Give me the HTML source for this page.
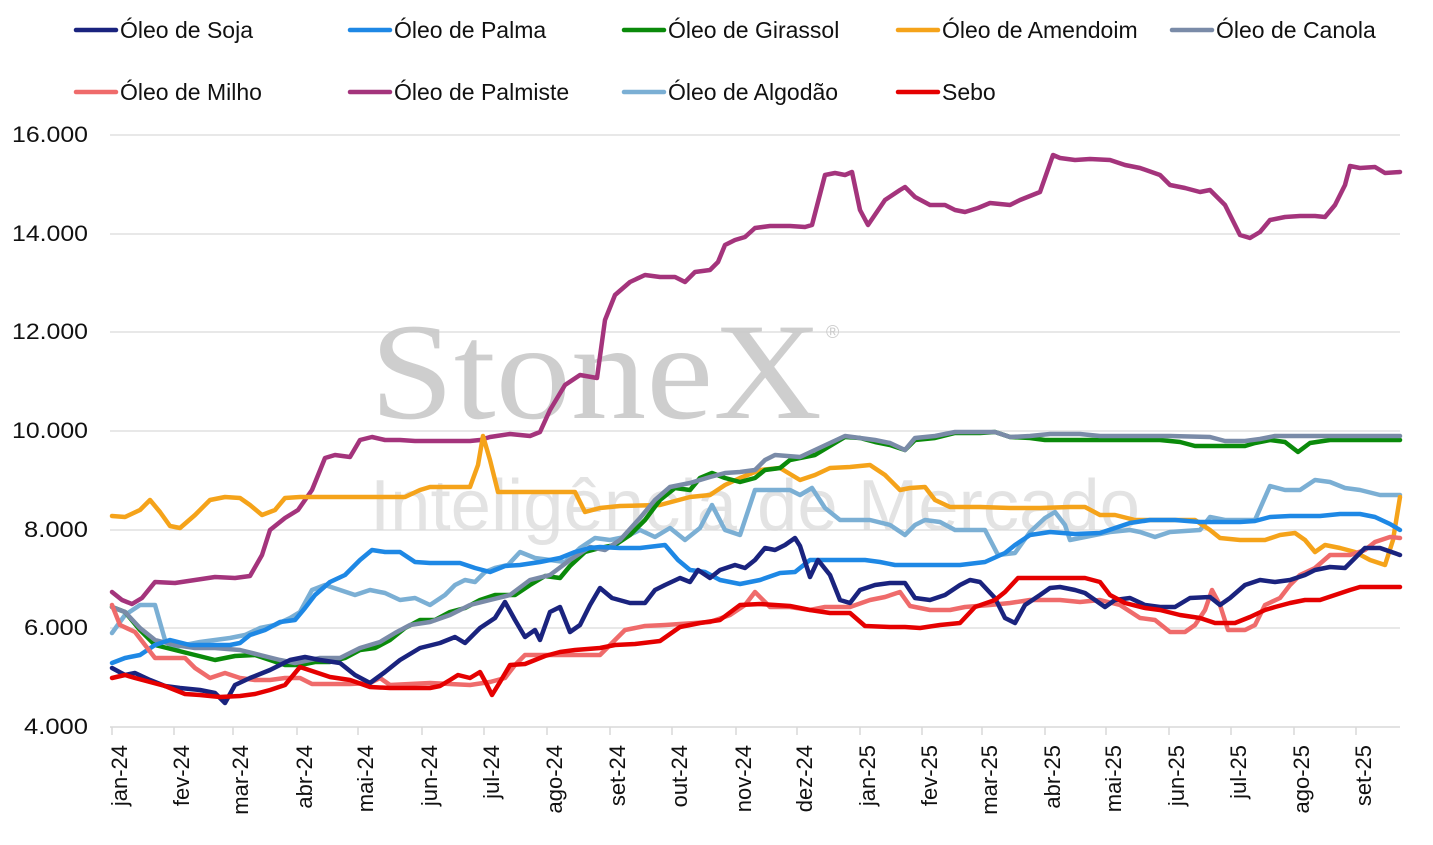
<!DOCTYPE html>
<html><head><meta charset="utf-8"><style>
body{margin:0;background:#fff;}
svg{display:block;font-family:"Liberation Sans",sans-serif;}
</style></head><body>
<svg width="1433" height="845" viewBox="0 0 1433 845" xmlns="http://www.w3.org/2000/svg">
<g stroke="#d9d9d9" stroke-width="1.3">
<line x1="110" x2="1400" y1="135" y2="135"/><line x1="110" x2="1400" y1="234" y2="234"/><line x1="110" x2="1400" y1="332" y2="332"/><line x1="110" x2="1400" y1="431" y2="431"/><line x1="110" x2="1400" y1="530" y2="530"/><line x1="110" x2="1400" y1="628" y2="628"/>
</g>
<g font-size="22" fill="#111" text-anchor="end">
<text x="88" y="142" textLength="76" lengthAdjust="spacingAndGlyphs">16.000</text><text x="88" y="241" textLength="76" lengthAdjust="spacingAndGlyphs">14.000</text><text x="88" y="339" textLength="76" lengthAdjust="spacingAndGlyphs">12.000</text><text x="88" y="438" textLength="76" lengthAdjust="spacingAndGlyphs">10.000</text><text x="88" y="537" textLength="64" lengthAdjust="spacingAndGlyphs">8.000</text><text x="88" y="635" textLength="64" lengthAdjust="spacingAndGlyphs">6.000</text><text x="88" y="734" textLength="64" lengthAdjust="spacingAndGlyphs">4.000</text>
</g>
<text x="370" y="418" font-family="Liberation Serif,serif" font-size="138" fill="#c9c9c9" opacity="0.9" textLength="452" lengthAdjust="spacingAndGlyphs">StoneX</text>
<text x="826" y="338" font-size="18" fill="#ccc">®</text>
<text x="370" y="530" font-size="72" fill="#ddd" opacity="0.8" textLength="770" lengthAdjust="spacingAndGlyphs">Inteligência de Mercado</text>
<g fill="none" stroke-width="4.5" stroke-linejoin="round" stroke-linecap="round">
<polyline stroke="#A4347C" points="112,592 122,600 132,604 142,598 155,582 175,583 195,580 215,577 235,578 250,576 262,555 270,530 285,518 298,510 312,490 325,458 335,455 350,457 360,440 372,437 385,440 400,440 415,441 440,441 470,441 480,440 490,437 510,434 530,436 540,432 550,410 565,385 580,375 597,378 605,320 615,295 630,282 645,275 660,277 675,277 685,282 695,272 710,270 718,262 725,245 735,240 745,237 755,228 770,226 790,226 805,227 812,225 825,175 835,173 845,175 852,172 860,210 868,225 885,200 900,190 905,187 915,197 930,205 945,205 955,210 965,212 978,208 990,203 1010,205 1020,200 1040,192 1053,155 1060,158 1075,160 1090,159 1110,160 1125,165 1140,168 1160,175 1170,185 1185,188 1200,192 1210,190 1225,205 1240,235 1250,238 1260,232 1270,220 1285,217 1300,216 1315,216 1325,217 1335,205 1345,185 1350,166 1360,168 1375,167 1385,173 1400,172"/>
<polyline stroke="#7BAFD4" points="112,633 125,615 140,605 155,605 165,640 172,648 185,645 200,642 215,640 230,638 245,635 260,628 275,625 290,618 300,612 312,590 325,585 340,590 355,595 370,590 385,593 400,600 415,598 430,605 445,595 455,585 465,580 475,582 485,572 495,568 508,565 520,552 535,558 550,560 565,562 580,548 595,538 610,540 625,537 640,530 655,537 670,528 685,540 700,528 712,505 725,530 740,535 755,490 770,490 790,490 800,495 812,488 825,508 840,520 870,520 890,525 905,535 915,525 925,520 940,522 955,530 985,530 998,555 1015,553 1030,532 1045,518 1055,512 1065,525 1070,540 1085,537 1095,535 1110,532 1130,530 1140,532 1155,537 1170,532 1200,530 1210,517 1225,520 1255,520 1270,486 1285,490 1300,490 1315,480 1330,482 1345,488 1360,490 1380,495 1400,495"/>
<polyline stroke="#F5A31A" points="112,516 125,517 140,510 150,500 160,512 170,526 180,528 195,515 210,500 225,497 240,498 250,505 262,515 275,510 285,498 300,497 340,497 380,497 405,497 420,490 430,487 455,487 470,487 478,465 483,436 490,460 498,492 520,492 550,492 575,492 585,512 600,508 620,506 660,505 690,497 710,495 725,485 740,478 760,470 780,468 800,480 815,475 830,468 850,467 870,465 885,475 900,490 910,488 925,487 935,500 950,507 980,507 1010,508 1040,508 1070,507 1085,507 1100,515 1115,515 1135,520 1160,520 1195,520 1210,530 1220,538 1240,540 1265,540 1280,535 1295,533 1305,540 1315,552 1325,545 1340,548 1355,552 1370,560 1385,565 1393,540 1400,497"/>
<polyline stroke="#0A8A0A" points="112,607 125,612 140,630 155,645 175,650 195,655 215,660 235,656 255,655 270,660 285,665 300,665 315,662 330,662 345,658 360,650 375,648 390,640 405,628 420,620 435,620 450,612 465,608 480,600 495,595 515,595 530,585 545,576 560,578 570,566 585,552 600,548 615,545 630,535 645,520 660,500 675,488 690,490 700,478 712,473 725,478 740,482 755,478 765,470 780,468 790,460 800,458 815,455 830,446 845,437 860,438 875,442 890,445 905,450 915,440 935,438 955,433 980,433 995,432 1010,437 1030,438 1045,440 1070,440 1100,440 1130,440 1160,440 1180,442 1195,446 1215,446 1245,446 1255,443 1270,440 1285,442 1298,452 1310,443 1330,440 1360,440 1400,440"/>
<polyline stroke="#7A8BA8" points="112,607 125,612 140,628 155,640 175,645 195,648 215,648 240,650 260,655 280,660 295,663 320,658 340,658 360,648 380,642 395,633 410,625 430,622 450,615 470,605 490,600 510,595 530,580 550,575 570,560 590,547 605,550 620,540 640,518 655,500 670,487 690,483 710,477 725,473 740,472 755,470 765,460 775,455 800,457 815,450 830,443 845,436 860,438 875,440 890,443 905,450 915,438 935,436 955,432 995,432 1010,437 1030,436 1050,434 1080,434 1100,436 1130,436 1170,436 1210,437 1225,441 1245,441 1260,439 1275,436 1300,436 1330,436 1400,436"/>
<polyline stroke="#1E88E5" points="112,663 125,658 140,655 155,645 170,640 190,645 210,645 230,645 240,643 250,635 265,630 280,622 295,620 305,608 315,595 330,582 345,575 360,560 372,550 385,552 400,552 415,562 430,563 460,563 475,568 490,572 505,566 520,565 540,562 560,558 575,552 590,548 600,547 620,548 640,548 665,545 678,560 690,570 705,572 720,580 740,584 760,580 780,573 795,572 810,560 825,560 850,560 865,560 880,562 895,565 930,565 960,565 985,562 1005,553 1015,545 1030,535 1050,532 1075,534 1100,533 1115,528 1130,523 1150,520 1175,520 1200,522 1240,522 1255,521 1270,517 1290,516 1320,516 1340,514 1360,514 1375,517 1390,524 1400,530"/>
<polyline stroke="#EF6B6B" points="112,605 120,625 135,632 145,645 155,658 170,658 185,658 195,668 210,678 225,673 240,678 255,680 270,680 285,678 300,678 312,684 330,684 350,684 370,683 380,678 390,685 410,684 430,683 450,684 470,685 490,682 505,678 515,665 525,655 540,655 560,655 600,655 615,640 625,630 645,626 665,625 680,624 710,622 730,615 745,605 755,592 770,607 790,607 810,610 825,607 850,607 870,600 885,597 900,592 910,606 930,610 950,610 965,607 990,605 1010,603 1030,600 1060,600 1080,602 1100,600 1120,605 1140,618 1155,620 1170,632 1185,632 1195,625 1205,610 1212,590 1220,605 1228,630 1245,630 1255,625 1265,605 1280,598 1290,585 1300,575 1315,568 1330,555 1350,555 1365,550 1375,542 1390,537 1400,538"/>
<polyline stroke="#1A237E" points="112,668 125,675 135,673 150,680 165,686 180,688 200,690 215,693 225,703 235,685 250,678 270,670 290,660 305,657 320,660 340,663 355,675 370,683 385,672 400,660 420,648 440,643 455,637 465,643 480,628 495,618 505,602 515,620 525,637 535,630 540,640 550,612 560,607 570,632 580,625 590,605 600,588 612,598 630,603 645,603 655,590 665,585 680,578 690,582 698,570 710,578 720,570 735,565 745,568 755,560 765,548 775,550 785,545 795,538 800,546 810,577 818,560 830,575 840,600 850,603 860,590 875,585 890,583 905,583 915,598 930,600 945,595 960,585 970,580 980,582 995,598 1005,618 1015,623 1025,605 1040,595 1050,588 1060,587 1075,590 1085,593 1095,600 1105,607 1115,600 1130,598 1145,605 1160,607 1175,607 1190,598 1210,597 1220,605 1230,598 1245,585 1260,580 1275,582 1290,580 1305,575 1315,570 1330,567 1345,568 1355,558 1365,548 1380,548 1400,555"/>
<polyline stroke="#E50000" points="112,678 125,675 135,678 150,682 165,686 175,690 185,694 200,695 220,697 240,696 255,694 270,690 285,685 300,667 315,672 330,677 350,680 370,687 390,688 410,688 430,688 440,686 450,680 458,675 470,678 480,672 486,683 492,695 500,682 510,665 525,664 545,656 560,652 575,650 600,648 615,645 635,644 660,641 680,627 700,623 720,620 740,605 760,604 790,606 810,610 830,613 850,613 865,626 890,627 905,627 920,628 940,625 960,623 975,607 995,600 1005,592 1018,578 1040,578 1060,578 1085,578 1100,582 1110,595 1125,603 1145,608 1160,610 1180,615 1200,618 1215,623 1235,623 1250,617 1265,610 1275,607 1290,603 1305,600 1320,600 1335,595 1350,590 1360,587 1400,587"/>
</g>
<line x1="110" x2="1400" y1="727" y2="727" stroke="#d9d9d9" stroke-width="1.5"/>
<g stroke="#d9d9d9" stroke-width="1.5">
<line x1="112" x2="112" y1="727" y2="735"/><line x1="174" x2="174" y1="727" y2="735"/><line x1="233" x2="233" y1="727" y2="735"/><line x1="297" x2="297" y1="727" y2="735"/><line x1="358" x2="358" y1="727" y2="735"/><line x1="422" x2="422" y1="727" y2="735"/><line x1="484" x2="484" y1="727" y2="735"/><line x1="547" x2="547" y1="727" y2="735"/><line x1="610" x2="610" y1="727" y2="735"/><line x1="672" x2="672" y1="727" y2="735"/><line x1="736" x2="736" y1="727" y2="735"/><line x1="797" x2="797" y1="727" y2="735"/><line x1="860" x2="860" y1="727" y2="735"/><line x1="922" x2="922" y1="727" y2="735"/><line x1="982" x2="982" y1="727" y2="735"/><line x1="1045" x2="1045" y1="727" y2="735"/><line x1="1106" x2="1106" y1="727" y2="735"/><line x1="1169" x2="1169" y1="727" y2="735"/><line x1="1231" x2="1231" y1="727" y2="735"/><line x1="1294" x2="1294" y1="727" y2="735"/><line x1="1356" x2="1356" y1="727" y2="735"/>
</g>
<g font-size="22" fill="#111" text-anchor="end">
<text transform="translate(127,745) rotate(-90)">jan-24</text>
<text transform="translate(189,745) rotate(-90)">fev-24</text>
<text transform="translate(248,745) rotate(-90)">mar-24</text>
<text transform="translate(312,745) rotate(-90)">abr-24</text>
<text transform="translate(373,745) rotate(-90)">mai-24</text>
<text transform="translate(437,745) rotate(-90)">jun-24</text>
<text transform="translate(499,745) rotate(-90)">jul-24</text>
<text transform="translate(562,745) rotate(-90)">ago-24</text>
<text transform="translate(625,745) rotate(-90)">set-24</text>
<text transform="translate(687,745) rotate(-90)">out-24</text>
<text transform="translate(751,745) rotate(-90)">nov-24</text>
<text transform="translate(812,745) rotate(-90)">dez-24</text>
<text transform="translate(875,745) rotate(-90)">jan-25</text>
<text transform="translate(937,745) rotate(-90)">fev-25</text>
<text transform="translate(997,745) rotate(-90)">mar-25</text>
<text transform="translate(1060,745) rotate(-90)">abr-25</text>
<text transform="translate(1121,745) rotate(-90)">mai-25</text>
<text transform="translate(1184,745) rotate(-90)">jun-25</text>
<text transform="translate(1246,745) rotate(-90)">jul-25</text>
<text transform="translate(1309,745) rotate(-90)">ago-25</text>
<text transform="translate(1371,745) rotate(-90)">set-25</text>
</g>
<g stroke-width="4.5" stroke-linecap="round">
<line x1="76" x2="116" y1="30" y2="30" stroke="#1A237E"/>
<line x1="350" x2="390" y1="30" y2="30" stroke="#1E88E5"/>
<line x1="624" x2="664" y1="30" y2="30" stroke="#0A8A0A"/>
<line x1="898" x2="938" y1="30" y2="30" stroke="#F5A31A"/>
<line x1="1172" x2="1212" y1="30" y2="30" stroke="#7A8BA8"/>
<line x1="76" x2="116" y1="92" y2="92" stroke="#EF6B6B"/>
<line x1="350" x2="390" y1="92" y2="92" stroke="#A4347C"/>
<line x1="624" x2="664" y1="92" y2="92" stroke="#7BAFD4"/>
<line x1="898" x2="938" y1="92" y2="92" stroke="#E50000"/>
</g>
<g font-size="23" fill="#111">
<text x="120" y="38">Óleo de Soja</text>
<text x="394" y="38">Óleo de Palma</text>
<text x="668" y="38">Óleo de Girassol</text>
<text x="942" y="38">Óleo de Amendoim</text>
<text x="1216" y="38">Óleo de Canola</text>
<text x="120" y="100">Óleo de Milho</text>
<text x="394" y="100">Óleo de Palmiste</text>
<text x="668" y="100">Óleo de Algodão</text>
<text x="942" y="100">Sebo</text>
</g>
</svg>
</body></html>
